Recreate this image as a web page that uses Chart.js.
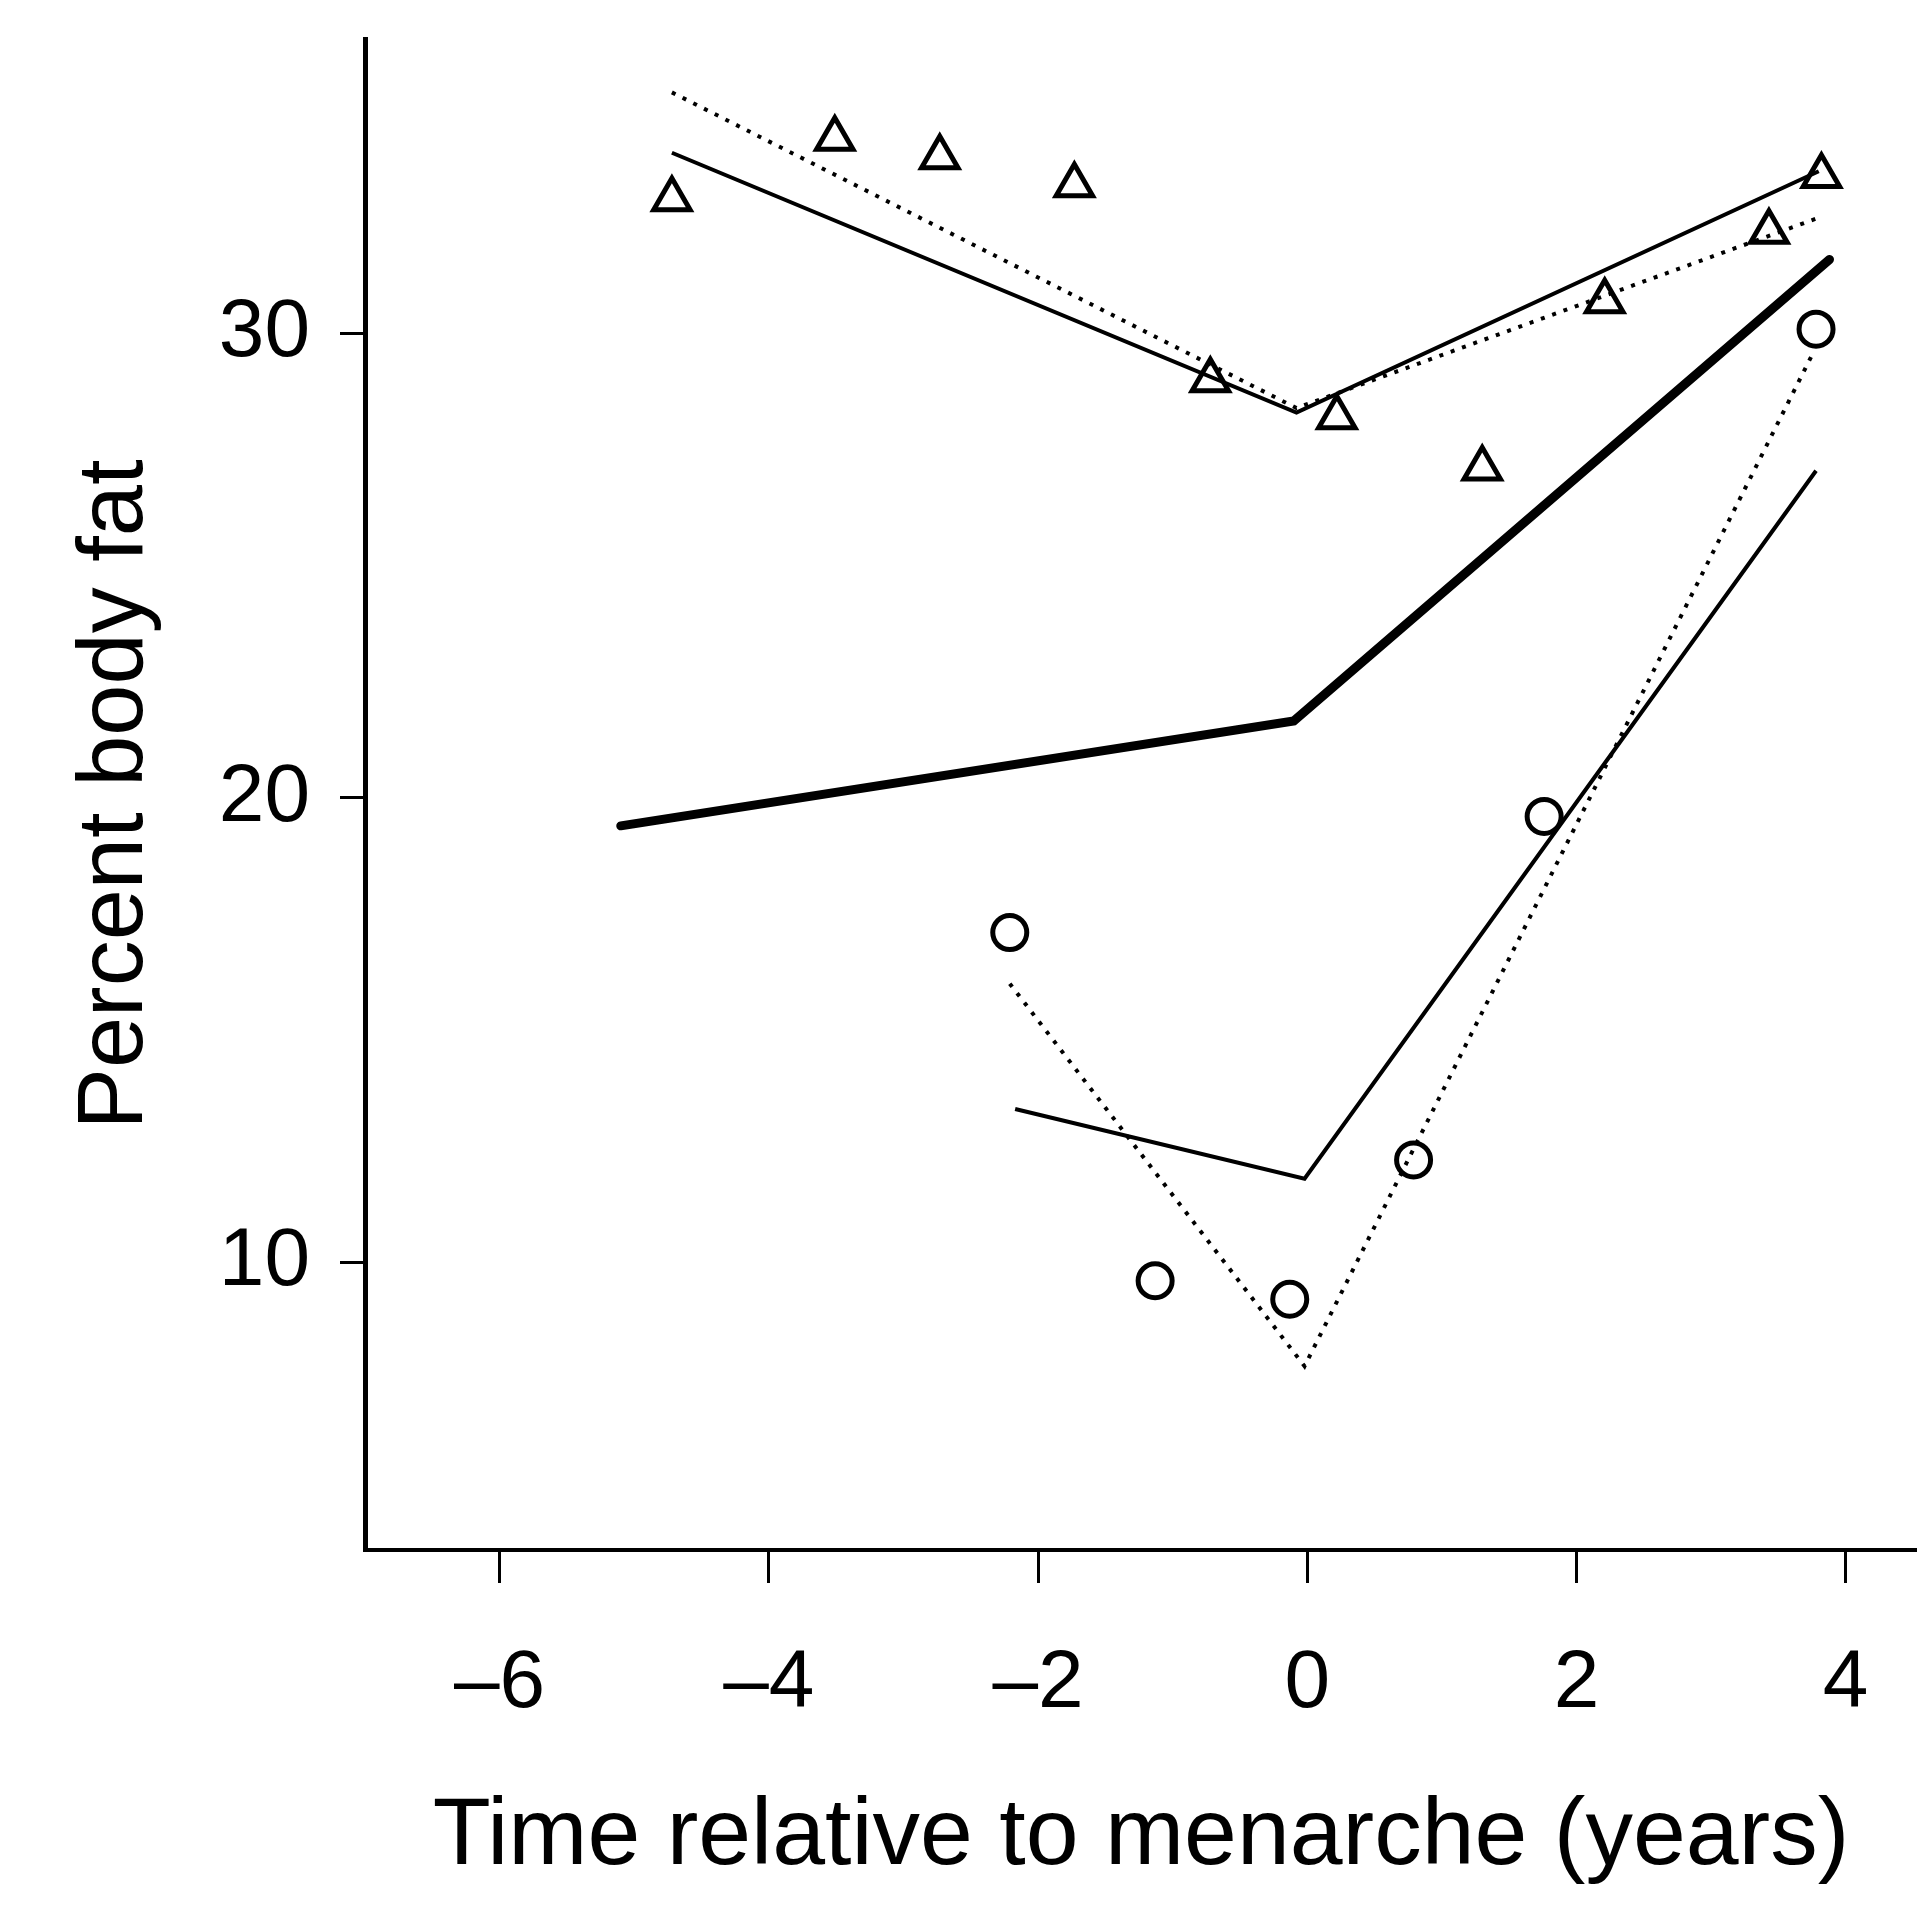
<!DOCTYPE html>
<html>
<head>
<meta charset="utf-8">
<script src="https://cdn.jsdelivr.net/npm/chart.js@4/dist/chart.umd.min.js"></script>
<style>
  html, body { margin: 0; padding: 0; background: #fff; }
  #wrap { width: 1917px; height: 1907px; }
</style>
</head>
<body>
<div id="wrap"><canvas id="fatChart" width="1917" height="1907"></canvas></div>
<script>
// observed points (triangles and circles)
const triX = [-4.72, -3.51, -2.73, -1.73, -0.72, 0.22, 1.30, 2.21, 3.43, 3.82];
const triY = [32.9, 34.2, 33.8, 33.2, 29.0, 28.2, 27.1, 30.7, 32.2, 33.4];
const circX = [-2.21, -1.13, -0.13, 0.79, 1.76, 3.78];
const circY = [17.1, 9.6, 9.2, 12.2, 19.6, 30.1];

// fitted broken-stick lines
const triSolidX = [-4.72, -0.08, 3.80];
const triSolidY = [33.9, 28.3, 33.5];
const triDotX = [-4.72, -0.08, 3.80];
const triDotY = [35.2, 28.4, 32.5];
const meanX = [-5.10, -0.10, 3.88];
const meanY = [19.4, 21.66, 31.6];
const circSolidX = [-2.17, -0.02, 3.78];
const circSolidY = [13.3, 11.8, 27.05];
const circDotX = [-2.21, -0.02, 3.76];
const circDotY = [16.0, 7.76, 29.6];

// axis ticks
const xTickVals = [-6, -4, -2, 0, 2, 4];
const yTickVals = [10, 20, 30];

const pts = (xs, ys) => xs.map((x, i) => ({ x: x, y: ys[i] }));
const FONT = "'Liberation Sans', Arial, Helvetica, sans-serif";

const ctx = document.getElementById('fatChart').getContext('2d');
const fatChart = new Chart(ctx, {
    type: 'scatter',
    data: {
        datasets: [
            {
                data: pts(meanX, meanY),
                showLine: true,
                borderColor: '#000',
                borderWidth: 9,
                borderCapStyle: 'round',
                pointRadius: 0
            },
            {
                data: pts(triSolidX, triSolidY),
                showLine: true,
                borderColor: '#000',
                borderWidth: 4,
                pointRadius: 0
            },
            {
                data: pts(triDotX, triDotY),
                showLine: true,
                borderColor: '#000',
                borderWidth: 4,
                borderDash: [4, 8],
                pointRadius: 0
            },
            {
                data: pts(circSolidX, circSolidY),
                showLine: true,
                borderColor: '#000',
                borderWidth: 4,
                pointRadius: 0
            },
            {
                data: pts(circDotX, circDotY),
                showLine: true,
                borderColor: '#000',
                borderWidth: 4,
                borderDash: [4, 8],
                pointRadius: 0
            },
            {
                data: pts(triX, triY),
                pointStyle: 'triangle',
                pointRadius: 21,
                borderColor: '#000',
                backgroundColor: 'rgba(0,0,0,0)',
                borderWidth: 5
            },
            {
                data: pts(circX, circY),
                pointStyle: 'circle',
                pointRadius: 17,
                borderColor: '#000',
                backgroundColor: 'rgba(0,0,0,0)',
                borderWidth: 5
            }
        ]
    },
    options: {
        responsive: false,
        animation: false,
        devicePixelRatio: 1,
        layout: { autoPadding: false, padding: { top: 39, right: 0, bottom: 0, left: 0 } },
        plugins: { legend: { display: false }, tooltip: { enabled: false } },
        scales: {
            x: {
                type: 'linear',
                min: -7,
                max: 4.53,
                afterBuildTicks: (scale) => { scale.ticks = xTickVals.map(v => ({ value: v })); },
                afterFit: (scale) => {
                    scale.height = 357;
                    scale.paddingLeft = 0;
                    scale.paddingRight = 0;
                },
                grid: { drawOnChartArea: false, drawTicks: true, tickLength: 33, tickWidth: 3, color: '#000' },
                border: { display: true, color: '#000', width: 4 },
                ticks: {
                    color: '#000',
                    padding: 52,
                    font: { family: FONT, size: 82 },
                    callback: (v) => String(v).replace('-', '\u2013')
                },
                title: {
                    display: true,
                    text: 'Time relative to menarche (years)',
                    color: '#000',
                    font: { family: FONT, size: 95 },
                    padding: { top: 0, bottom: 12 }
                }
            },
            y: {
                type: 'linear',
                min: 3.8,
                max: 36.35,
                afterBuildTicks: (scale) => { scale.ticks = yTickVals.map(v => ({ value: v })); },
                afterFit: (scale) => {
                    scale.width = 365;
                    scale.paddingTop = 0;
                    scale.paddingBottom = 0;
                },
                grid: { drawOnChartArea: false, drawTicks: true, tickLength: 25, tickWidth: 3, color: '#000' },
                border: { display: true, color: '#000', width: 5 },
                ticks: {
                    color: '#000',
                    padding: 30,
                    font: { family: FONT, size: 82 }
                },
                title: {
                    display: true,
                    text: 'Percent body fat',
                    color: '#000',
                    font: { family: FONT, size: 92 },
                    padding: { top: 61, bottom: 0 }
                }
            }
        }
    }
});
</script>
</body>
</html>
